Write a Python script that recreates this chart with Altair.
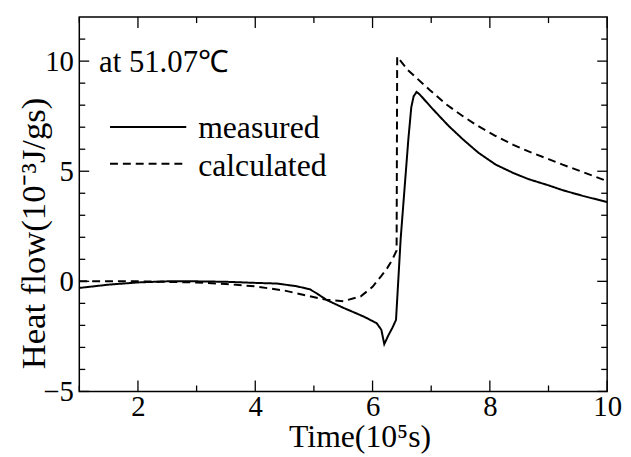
import altair as alt
import pandas as pd

# ---- data ----
series_names = ["measured", "calculated"]

meas_x = [1.0, 1.5, 2.0, 2.5, 3.0, 3.5, 4.0, 4.37, 4.7, 4.93, 5.05, 5.22, 5.5, 5.85, 6.07, 6.15,
          6.2, 6.27, 6.34, 6.40, 6.48, 6.61, 6.66, 6.70, 6.75, 6.8, 6.9, 7.0, 7.14, 7.3, 7.54, 7.8,
          8.1, 8.4, 8.66, 9.0, 9.24, 9.6, 10.0]
meas_y = [-0.3, -0.15, -0.05, 0.0, 0.0, -0.02, -0.07, -0.1, -0.22, -0.36, -0.55, -0.85, -1.2, -1.6, -1.9, -2.2,
          -2.85, -2.45, -2.1, -1.75, 1.96, 6.44, 7.9, 8.4, 8.6, 8.5, 8.2, 7.9, 7.5, 7.05, 6.45, 5.85,
          5.3, 4.92, 4.64, 4.36, 4.14, 3.87, 3.6]

calc_x = [1.0, 2.0, 3.0, 3.5, 4.0, 4.5, 4.93, 5.2, 5.5, 5.8, 6.0, 6.15, 6.25, 6.33, 6.41, 6.42,
          6.6, 6.97, 7.25, 7.54, 7.8, 8.1, 8.4, 8.66, 9.0, 9.24, 9.6, 10.0]
calc_y = [0.0, 0.0, -0.05, -0.12, -0.23, -0.42, -0.68, -0.83, -0.9, -0.68, -0.25, 0.25, 0.6, 0.95, 1.4, 10.2,
          9.6, 8.7, 8.05, 7.5, 7.05, 6.6, 6.2, 5.9, 5.55, 5.3, 4.95, 4.55]

x_major = [2, 4, 6, 8, 10]
x_minor = [1, 3, 5, 7, 9]
y_major = [-5, 0, 5, 10]
y_minor = [-4, -3, -2, -1, 1, 2, 3, 4, 6, 7, 8, 9, 11]

annotation = "at 51.07℃"
x_title = "Time(10⁵s)"
y_title = "Heat flow(10⁻³J/gs)"

X_DOM = [1, 10]
Y_DOM = [-5, 12]
W, H = 533, 378
FONT = "Liberation Serif"

rows = []
for i, (a, b) in enumerate(zip(meas_x, meas_y)):
    rows.append({"t": a, "q": b, "series": "measured", "i": i})
for i, (a, b) in enumerate(zip(calc_x, calc_y)):
    rows.append({"t": a, "q": b, "series": "calculated", "i": i})
df = pd.DataFrame(rows)

xs = alt.Scale(domain=X_DOM, nice=False, zero=False)
ys = alt.Scale(domain=Y_DOM, nice=False, zero=False)
dash_scale = alt.Scale(domain=series_names, range=[[1, 0], [8, 5]])

lines = alt.Chart(df).mark_line(color="black", strokeWidth=2).encode(
    x=alt.X("t:Q", scale=xs,
            axis=alt.Axis(title=x_title, values=x_major, format="d", ticks=False, domain=False, grid=False,
                          labelFlush=False, labelOverlap=False,
                          labelFont=FONT, labelFontSize=29, labelColor="black", labelPadding=1,
                          titleFont=FONT, titleFontSize=32, titleFontWeight="normal", titleColor="black",
                          titleX=283, titleY=56, titleBaseline="alphabetic")),
    y=alt.Y("q:Q", scale=ys,
            axis=alt.Axis(title=y_title, values=y_major, format="d", ticks=False, domain=False, grid=False,
                          labelFlush=False, labelOverlap=False,
                          labelFont=FONT, labelFontSize=29, labelColor="black", labelPadding=6,
                          titleFont=FONT, titleFontSize=35, titleFontWeight="normal", titleColor="black",
                          titleX=-46, titleY=218, titleAngle=-90, titleAlign="center",
                          titleBaseline="middle")),
    strokeDash=alt.StrokeDash("series:N", scale=dash_scale, legend=None),
    order="i:Q",
)

def xticks(vals, length):
    d = pd.DataFrame({"t": vals})
    bottom = alt.Chart(d).mark_rule(color="black", strokeWidth=1.3).encode(
        x=alt.X("t:Q", scale=xs), y=alt.value(H), y2=alt.value(H - length))
    top = alt.Chart(d).mark_rule(color="black", strokeWidth=1.3).encode(
        x=alt.X("t:Q", scale=xs), y=alt.value(0), y2=alt.value(length))
    return [bottom, top]

def yticks(vals, length):
    d = pd.DataFrame({"q": vals})
    left = alt.Chart(d).mark_rule(color="black", strokeWidth=1.3).encode(
        y=alt.Y("q:Q", scale=ys), x=alt.value(0), x2=alt.value(length))
    right = alt.Chart(d).mark_rule(color="black", strokeWidth=1.3).encode(
        y=alt.Y("q:Q", scale=ys), x=alt.value(W), x2=alt.value(W - length))
    return [left, right]

tick_layers = xticks(x_major, 11) + xticks(x_minor, 6) + yticks(y_major, 10) + yticks(y_minor, 6)

# manual legend
leg_df = pd.DataFrame({"series": series_names, "row": [0, 1]})
leg_line_m = alt.Chart(leg_df[leg_df.series == "measured"]).mark_rule(color="black", strokeWidth=2).encode(
    x=alt.value(31), x2=alt.value(108), y=alt.value(111))
leg_line_c = alt.Chart(leg_df[leg_df.series == "calculated"]).mark_rule(
    color="black", strokeWidth=2, strokeDash=[8, 5]).encode(
    x=alt.value(31), x2=alt.value(108), y=alt.value(148))
leg_txt_m = alt.Chart(leg_df[leg_df.series == "measured"]).mark_text(
    font=FONT, fontSize=32, align="left", baseline="alphabetic", color="black").encode(
    text="series:N", x=alt.value(120), y=alt.value(122))
leg_txt_c = alt.Chart(leg_df[leg_df.series == "calculated"]).mark_text(
    font=FONT, fontSize=32, align="left", baseline="alphabetic", color="black").encode(
    text="series:N", x=alt.value(120), y=alt.value(160))

ann_df = pd.DataFrame({"label": [annotation]})
ann = alt.Chart(ann_df).mark_text(
    font=FONT, fontSize=31, align="left", baseline="alphabetic", color="black").encode(
    text="label:N", x=alt.value(20), y=alt.value(55))

chart = alt.layer(lines, *tick_layers, leg_line_m, leg_line_c, leg_txt_m, leg_txt_c, ann).properties(
    width=W, height=H,
    autosize=alt.AutoSizeParams(type="none"),
    padding={"left": 72, "top": 7, "right": 16, "bottom": 62},
    background="white",
).configure_view(stroke="black", strokeWidth=1.5)

chart.save("out.html", embed_options={"renderer": "svg", "actions": False})
